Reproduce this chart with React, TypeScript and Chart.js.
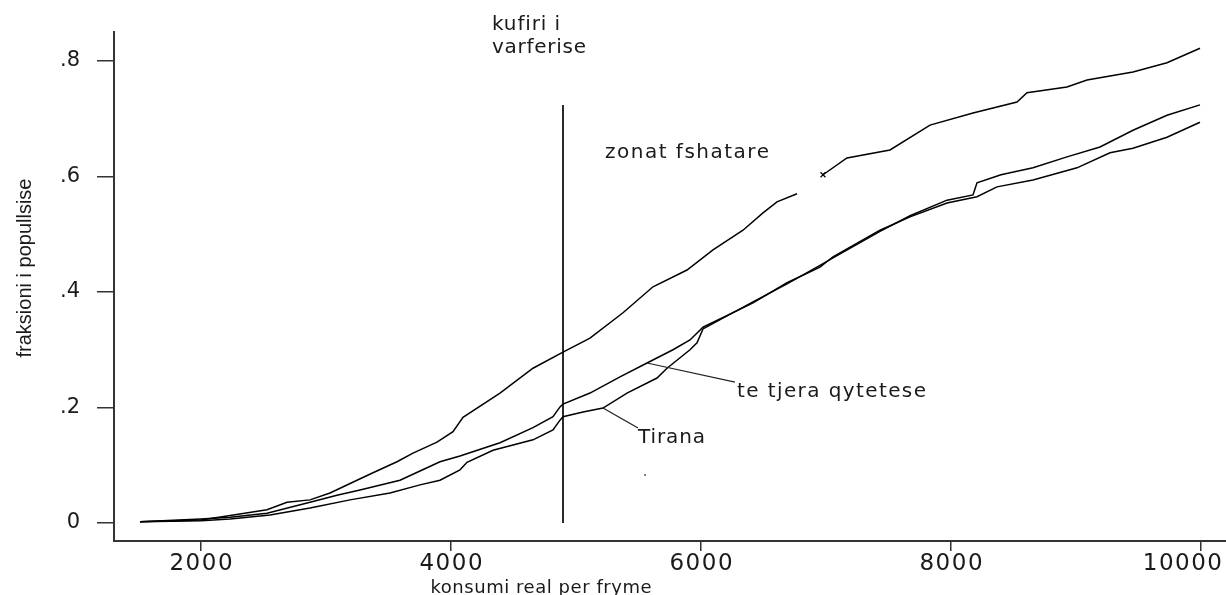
import React, { useEffect, useRef } from 'react';
import { Chart, registerables } from 'chart.js';

Chart.register(...registerables);

// ---- data ----
const ruralX = [1512, 2000, 2208, 2528, 2688, 2872, 3032, 3248, 3376, 3568, 3696, 3888, 4016, 4096, 4392, 4656, 4896, 5112, 5376, 5616, 5888, 6096, 6336, 6496, 6608, 6768, 6870, 6976, 7168, 7512, 7832, 8176, 8528, 8608, 8928, 9088, 9456, 9728, 9992];
const ruralY = [0.002, 0.005, 0.012, 0.023, 0.036, 0.04, 0.052, 0.074, 0.087, 0.106, 0.121, 0.14, 0.158, 0.183, 0.225, 0.268, 0.296, 0.32, 0.364, 0.409, 0.438, 0.473, 0.507, 0.537, 0.556, 0.57, null, 0.603, 0.632, 0.646, 0.689, 0.71, 0.729, 0.745, 0.755, 0.767, 0.781, 0.797, 0.822];

const otherUrbanX = [1512, 2000, 2232, 2528, 2872, 3088, 3272, 3592, 3752, 3912, 4072, 4392, 4656, 4816, 4872, 4896, 5112, 5352, 5568, 5776, 5912, 6016, 6416, 6688, 6952, 7056, 7432, 7672, 7968, 8208, 8368, 8656, 9008, 9272, 9456, 9728, 9992];
const otherUrbanY = [0.002, 0.007, 0.01, 0.017, 0.036, 0.048, 0.057, 0.074, 0.09, 0.106, 0.116, 0.139, 0.165, 0.184, 0.201, 0.206, 0.225, 0.253, 0.277, 0.3, 0.317, 0.339, 0.381, 0.416, 0.443, 0.461, 0.507, 0.53, 0.554, 0.565, 0.582, 0.594, 0.615, 0.641, 0.649, 0.668, 0.694];

const tiranaX = [1512, 2000, 2232, 2552, 2872, 3192, 3512, 3752, 3912, 4072, 4128, 4336, 4656, 4816, 4872, 4896, 5056, 5216, 5408, 5648, 5728, 5912, 5968, 6016, 6416, 6688, 6952, 7056, 7432, 7672, 7968, 8176, 8208, 8400, 8656, 8928, 9192, 9456, 9728, 9992];
const tiranaY = [0.002, 0.004, 0.007, 0.014, 0.026, 0.04, 0.052, 0.066, 0.074, 0.092, 0.105, 0.126, 0.144, 0.161, 0.178, 0.184, 0.192, 0.199, 0.225, 0.251, 0.268, 0.3, 0.312, 0.336, 0.383, 0.414, 0.446, 0.459, 0.505, 0.532, 0.559, 0.568, 0.589, 0.603, 0.615, 0.634, 0.651, 0.68, 0.706, 0.724];

const povertyLineX = [4896, 4896];
const povertyLineY = [0, 0.724];

const strayDotX = [5552];
const strayDotY = [0.083];
const crossMarkX = [6976];
const crossMarkY = [0.603];

const xTickValues = [2000, 4000, 6000, 8000, 10000];
const xTickLabels = ['2000', '4000', '6000', '8000', '10000'];
const yTickValues = [0, 0.2, 0.4, 0.6, 0.8];
const yTickLabels = ['0', '.2', '.4', '.6', '.8'];

const xTitle = 'konsumi real per fryme';
const yTitle = 'fraksioni i popullsise';
const povertyLabel = ['kufiri i', 'varferise'];
const ruralLabel = 'zonat fshatare';
const otherUrbanLabel = 'te tjera qytetese';
const tiranaLabel = 'Tirana';

// label anchors (data space) and leader lines
const ruralLabelAt = [5232, 0.632];
const otherUrbanLabelAt = [6288, 0.218];
const tiranaLabelAt = [5496, 0.1385];
const otherUrbanLeader = [[5568, 0.277], [6272, 0.244]];
const tiranaLeader = [[5216, 0.199], [5496, 0.1645]];

const pts = (xs: number[], ys: (number | null)[]) => xs.map((x, i) => ({ x, y: ys[i] }));

function drawSpaced(ctx: CanvasRenderingContext2D, text: string, x: number, y: number, width: number | null) {
  (ctx as any).letterSpacing = '0px';
  if (width) {
    const w = ctx.measureText(text).width;
    const sp = (width - w) / Math.max(1, text.length - 1);
    (ctx as any).letterSpacing = sp.toFixed(2) + 'px';
  }
  ctx.fillText(text, x, y);
  (ctx as any).letterSpacing = '0px';
}

const annotationPlugin = {
  id: 'annot',
  afterDraw(chart: any) {
    const ctx: CanvasRenderingContext2D = chart.ctx;
    const xs = chart.scales.x;
    const ys = chart.scales.y;
    const px = (v: number) => xs.getPixelForValue(v);
    const py = (v: number) => ys.getPixelForValue(v);
    ctx.save();
    ctx.fillStyle = '#1a1a1a';
    ctx.textBaseline = 'alphabetic';
    ctx.textAlign = 'left';

    // x tick labels (last one kept inside the canvas)
    ctx.font = '23px "DejaVu Sans"';
    xTickValues.forEach((v, i) => {
      const t = xTickLabels[i];
      const w = ctx.measureText(t).width + 1.5 * (t.length - 1);
      let cx = px(v);
      cx = Math.min(cx, chart.width - 4 - w / 2);
      drawSpaced(ctx, t, cx - w / 2, 570, w);
    });

    // axis titles
    ctx.font = '18px "DejaVu Sans"';
    const xw = 221;
    drawSpaced(ctx, xTitle, px(4720) - xw / 2, 593, xw);

    ctx.save();
    ctx.translate(31, 268);
    ctx.rotate(-Math.PI / 2);
    ctx.font = '20px "Liberation Sans"';
    ctx.textAlign = 'center';
    ctx.fillText(yTitle, 0, 0);
    ctx.restore();

    // poverty line label
    ctx.font = '20px "DejaVu Sans"';
    const lx = px(povertyLineX[0]) - 71;
    drawSpaced(ctx, povertyLabel[0], lx, 30, 68);
    drawSpaced(ctx, povertyLabel[1], lx, 53, 94);

    drawSpaced(ctx, ruralLabel, px(ruralLabelAt[0]), py(ruralLabelAt[1]), 164);
    drawSpaced(ctx, otherUrbanLabel, px(otherUrbanLabelAt[0]), py(otherUrbanLabelAt[1]), 189);
    drawSpaced(ctx, tiranaLabel, px(tiranaLabelAt[0]), py(tiranaLabelAt[1]), 67);

    // leader lines
    ctx.strokeStyle = '#222';
    ctx.lineWidth = 1.2;
    [otherUrbanLeader, tiranaLeader].forEach((seg) => {
      ctx.beginPath();
      ctx.moveTo(px(seg[0][0]), py(seg[0][1]));
      ctx.lineTo(px(seg[1][0]), py(seg[1][1]));
      ctx.stroke();
    });
    ctx.restore();
  },
};

export default function App() {
  const ref = useRef<HTMLCanvasElement>(null);
  useEffect(() => {
    document.body.style.margin = '0';
    document.body.style.overflow = 'hidden';
    const canvas = ref.current!;
    const lineStyle = { borderColor: '#000', borderWidth: 1.5, pointRadius: 0, tension: 0, fill: false, spanGaps: false };
    const chart = new Chart(canvas, {
      type: 'line',
      data: {
        datasets: [
          { label: 'zonat fshatare', data: pts(ruralX, ruralY), ...lineStyle },
          { label: 'te tjera qytetese', data: pts(otherUrbanX, otherUrbanY), ...lineStyle },
          { label: 'Tirana', data: pts(tiranaX, tiranaY), ...lineStyle },
          { label: 'kufiri i varferise', data: pts(povertyLineX, povertyLineY), borderColor: '#2a2a2a', borderWidth: 2, pointRadius: 0 },
          { label: 'dot', data: pts(strayDotX, strayDotY), showLine: false, pointRadius: 1, pointBackgroundColor: '#555', pointBorderWidth: 0 },
          { label: 'cross', data: pts(crossMarkX, crossMarkY), showLine: false, pointStyle: 'crossRot', pointRadius: 3.5, pointBorderColor: '#000', pointBorderWidth: 1.2 },
        ] as any,
      },
      options: {
        responsive: false,
        animation: false,
        parsing: true,
        layout: { autoPadding: false, padding: { top: 32, left: 0, right: 0, bottom: 0 } },
        plugins: { legend: { display: false }, tooltip: { enabled: false }, title: { display: false } },
        scales: {
          x: {
            type: 'linear',
            min: 1304,
            max: 10200,
            afterBuildTicks: (s: any) => { s.ticks = xTickValues.map((v) => ({ value: v })); },
            afterFit: (s: any) => { s.height = 54; s.paddingLeft = 0; s.paddingRight = 0; },
            ticks: { callback: () => '', autoSkip: false, maxRotation: 0 },
            grid: { drawOnChartArea: false, drawTicks: true, tickLength: 10, color: '#333', lineWidth: 1.5 },
            border: { display: true, color: '#333', width: 2 },
          },
          y: {
            type: 'linear',
            min: -0.0312,
            max: 0.8502,
            afterBuildTicks: (s: any) => { s.ticks = yTickValues.map((v) => ({ value: v })); },
            afterFit: (s: any) => { s.width = 114; s.paddingTop = 0; s.paddingBottom = 0; },
            ticks: {
              callback: (v: any) => yTickLabels[yTickValues.indexOf(v)] ?? '',
              padding: 17,
              color: '#1a1a1a',
              font: { family: 'DejaVu Sans', size: 21 },
            },
            grid: { drawOnChartArea: false, drawTicks: true, tickLength: 17, color: '#333', lineWidth: 1.5 },
            border: { display: true, color: '#333', width: 2 },
          },
        },
      } as any,
      plugins: [annotationPlugin],
    });
    return () => chart.destroy();
  }, []);
  return (
    <div style={{ width: 1226, height: 595 }}>
      <canvas ref={ref} width={1226} height={595} style={{ display: 'block' }} />
    </div>
  );
}
